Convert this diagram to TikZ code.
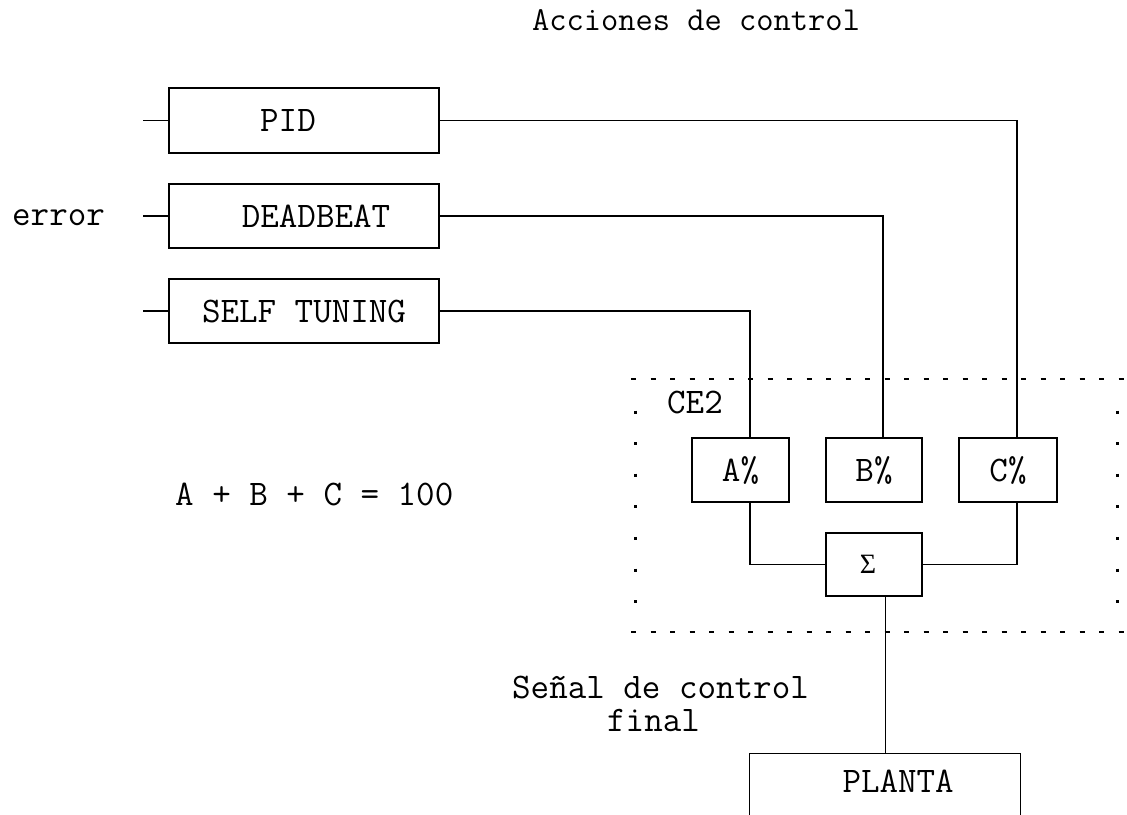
\documentclass[tikz,border=0pt]{standalone}
\usepackage{fontspec}
\newfontfamily\sigfont{Liberation Serif}
\newcommand\bodyfont{\ttfamily\fontsize{36}{30}\selectfont}
\newcommand\headfont{\ttfamily\fontsize{33.5}{36}\selectfont}
\tikzset{
  blk/.style={draw, line width=1.3pt, inner sep=0pt, font=\bodyfont},
  wire/.style={line width=1.3pt},
  txt/.style={inner sep=0pt, font=\bodyfont, anchor=base west},
  hdots/.style={line width=2.2pt, dash pattern=on 5pt off 14.5pt},
  vdots/.style={line width=3pt, dash pattern=on 3pt off 28.6pt},
}
\begin{document}
\begin{tikzpicture}[x=1pt, y=-1pt]
\useasboundingbox (0,0) rectangle (1127,814);
\fill[white] (0,0) rectangle (1127,814);
\clip (0,0) rectangle (1127,814);

% texts
\node[txt, font=\headfont] (title) at (532,30) {Acciones de control};
\node[txt] (err) at (12,225) {error};
\node[txt] (eq) at (175,505) {A + B + C = 100};
\node[txt] (ce2) at (667,413) {CE2};
\node[txt] (senal1) at (512,698) {Señal de control};
\node[txt] (senal2) at (607,731) {final};

% controller blocks
\node[blk, minimum width=270pt, minimum height=65pt] (pid) at (304,120.5) {PID\hspace*{32pt}};
\node[blk, minimum width=270pt, minimum height=64pt] (db) at (304,216) {\hspace*{24pt}DEADBEAT};
\node[blk, minimum width=270pt, minimum height=64pt] (st) at (304,311) {SELF TUNING};

% weighting blocks
\node[blk, minimum width=97pt, minimum height=64pt] (a) at (740.5,470) {A\%};
\node[blk, minimum width=96pt, minimum height=64pt] (b) at (874,470) {B\%};
\node[blk, minimum width=98pt, minimum height=64pt] (c) at (1008,470) {C\%};
\node[blk, minimum width=96pt, minimum height=63pt, font=\sigfont\fontsize{28}{30}\selectfont] (sum) at (874,564.5) {\hspace*{0pt}Σ\hspace*{12pt}};

% plant
\node[blk, minimum width=271pt, anchor=north west, text height=39pt, text depth=100pt] (planta) at (749,753) {\hspace*{26pt}PLANTA};

% inputs
\coordinate (inpid) at (143,120.5);
\coordinate (indb) at (143,216);
\coordinate (inst) at (143,311);
\draw[wire] (inpid) -- (pid.west);
\draw[wire] (indb) -- (db.west);
\draw[wire] (inst) -- (st.west);

% connections
\draw[wire] (pid.east) -| ([xshift=9pt]c.north);
\draw[wire] (db.east) -| ([xshift=9pt]b.north);
\draw[wire] (st.east) -| ([xshift=9.5pt]a.north);
\draw[wire] ([xshift=9.5pt]a.south) |- (sum.west);
\draw[wire] ([xshift=9pt]c.south) |- (sum.east);
\draw[wire] (sum.south -| planta.north) -- (planta.north);

% dotted CE2 boundary
\draw[hdots] (631,379) -- (1124,379);
\draw[hdots] (631,632) -- (1124,632);
\draw[vdots] (635,410.5) -- (635,604);
\draw[vdots] (1117,410.5) -- (1117,604);
\end{tikzpicture}
\end{document}
